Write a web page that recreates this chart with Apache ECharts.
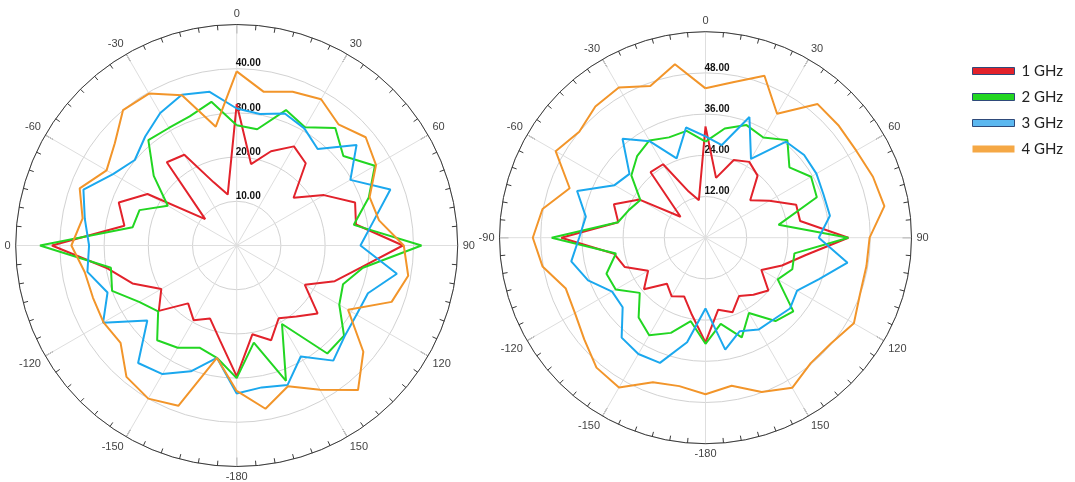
<!DOCTYPE html>
<html><head><meta charset="utf-8">
<script src="https://cdn.jsdelivr.net/npm/echarts@6/dist/echarts.min.js"></script>
<style>html,body{margin:0;padding:0;background:#fff}#c{width:1075px;height:482px}</style>
</head><body><div id="c"></div>
<script>
// Measurement angles (degrees, 0 at top, clockwise)
const ANGLES = [0,10,20,30,40,50,60,70,80,90,100,110,120,130,140,150,160,170,180,
  -170,-160,-150,-140,-130,-120,-110,-100,-90,-80,-70,-60,-50,-40,-30,-20,-10];
const SERIES_NAMES = ['1 GHz','2 GHz','3 GHz','4 GHz'];

// Left polar plot
const LEFT_1GHZ = [32,18.7,22.7,25.9,24.3,16.8,22.8,28.5,27.4,37.6,28.6,23.6,17.8,23.9,21,19,22.8,20.4,29.6,
  21.8,17.6,19.5,17.1,23,19.7,25.1,29.7,41.8,25.8,28.4,23.3,9.3,24.6,23.7,15.2,11.7];
const LEFT_2GHZ = [27.2,26.7,32.6,30.9,34.7,31.5,36.1,31.8,26.9,41.8,29.0,25.6,26.8,31.7,31.9,20.5,32.6,22.3,30.0,
  25.8,24.6,26.7,28.0,23.2,25.5,30.0,28.9,44.5,23.9,23.4,18.0,24.5,31.1,30.7,31.1,33.0];
const LEFT_3GHZ = [31.0,30.2,31.8,30.6,28.5,35.4,29.7,37.0,31.4,28.0,36.8,31.6,31.3,31.9,34.0,29.0,33.6,32.6,33.5,
  25.8,30.3,33.6,34.7,26.4,34.9,31.1,34.3,33.4,34.9,36.9,32.3,30.1,32.2,34.6,36.3,35.3];
const LEFT_4GHZ = [39.4,35.3,37.0,38.2,35.8,38.1,36.4,32.0,32.7,37.8,39.4,37.3,29.1,37.4,42.7,37.7,33.9,37.5,32.9,
  25.8,38.6,40.0,38.8,34.3,34.8,34.6,34.9,37.4,35.4,37.8,34.0,36.0,40.0,39.7,36.2,27.3];

// Right polar plot
const RIGHT_1GHZ = [32.4,17.7,24.1,25.5,23.6,17.0,21.5,28.1,28.0,41.6,29.5,23.7,18.8,23.9,21.7,19.6,23.1,21.3,30.5,
  22.8,18.2,19.7,17.5,23.4,19.3,25.0,27.0,42.0,25.8,28.4,22.2,9.5,24.9,24.7,14.3,11.1];
const RIGHT_2GHZ = [28.0,32.3,34.9,33.7,37.1,31.9,35.5,34.5,21.6,41.6,26.3,26.9,24.3,33.4,31.7,25.3,30.9,25.5,30.9,
  24.7,29.5,32.8,30.3,25.0,30.2,30.7,26.5,44.8,25.9,23.7,21.9,28.2,31.0,32.7,31.1,31.6];
const RIGHT_3GHZ = [29.5,27.4,37.4,26.5,36.5,37.5,37.3,36.6,36.8,33.0,42.0,35.2,30.8,32.1,31.0,30.9,29.0,33.1,20.6,
  30.9,38.8,39.1,38.0,31.5,31.4,36.4,39.7,36.8,35.4,39.8,30.6,28.9,37.6,32.4,24.6,32.6];
const RIGHT_4GHZ = [43.5,46.0,50.2,41.7,50.8,50.7,50.7,51.9,52.9,47.8,47.6,47.9,49.9,47.8,47.7,50.5,47.8,43.8,45.6,
  43.9,44.8,50.4,49.4,46.1,43.9,43.3,48.2,50.3,48.2,42.1,50.4,48.0,49.9,50.5,47.0,51.3];

const COLORS = ['#e2222b','#22d622','#1ba8ee','#f2952a'];
const LEGEND_COLORS = ['#e2222b','#22d622','#5cb8f0','#f5a845'];

function toPairs(vals) {
  const pts = vals.map((v, i) => [v, (ANGLES[i] + 360) % 360]);
  pts.push(pts[0]);
  return pts;
}
function angleFmt(hideNeg90) {
  return function (v) {
    const a = v >= 180 ? v - 360 : v;
    if (v === 360) return '';
    if (hideNeg90 && a === -90) return '0';
    return String(a);
  };
}
function angleAxis(idx, hideNeg90) {
  return {
    polarIndex: idx, type: 'value', min: 0, max: 360, interval: 30,
    startAngle: 90, clockwise: true,
    axisLine: { show: true, lineStyle: { color: '#3a3a3a', width: 1 } },
    axisTick: { show: true, inside: true, length: 9, lineStyle: { color: '#3a3a3a', width: 1 } },
    minorTick: { show: true, splitNumber: 6, length: 5, lineStyle: { color: '#3a3a3a', width: 1 } },
    axisLabel: { show: true, margin: 5, color: '#444', fontSize: 11, fontFamily: 'Liberation Sans, Arial', formatter: angleFmt(hideNeg90) },
    splitLine: { show: true, lineStyle: { color: '#dedede', width: 1 } }
  };
}
function radiusAxis(idx, max, interval) {
  return {
    polarIndex: idx, type: 'value', min: 0, max: max, interval: interval,
    axisLine: { show: false }, axisTick: { show: false },
    axisLabel: {
      show: true, inside: true, margin: 1, align: 'left', verticalAlign: 'bottom',
      color: '#111', fontSize: 10, fontWeight: 'bold', fontFamily: 'Liberation Sans, Arial',
      formatter: v => (v === 0 || v === max) ? '' : v.toFixed(2)
    },
    splitLine: { show: true, lineStyle: { color: '#d2d2d2', width: 1 } }
  };
}

const leftSets = [LEFT_1GHZ, LEFT_2GHZ, LEFT_3GHZ, LEFT_4GHZ];
const rightSets = [RIGHT_1GHZ, RIGHT_2GHZ, RIGHT_3GHZ, RIGHT_4GHZ];
const series = [];
[leftSets, rightSets].forEach((sets, p) => {
  sets.forEach((vals, i) => {
    series.push({
      name: SERIES_NAMES[i], type: 'line', coordinateSystem: 'polar', polarIndex: p,
      data: toPairs(vals), showSymbol: false, symbol: 'none', animation: false,
      lineStyle: { color: COLORS[i], width: 2 }, itemStyle: { color: COLORS[i] }, z: 3 + i
    });
  });
});

const chart = echarts.init(document.getElementById('c'), null, { renderer: 'canvas' });
chart.setOption({
  animation: false,
  backgroundColor: '#fff',
  polar: [
    { center: [236.7, 245.5], radius: 221 },
    { center: [705.5, 237.7], radius: 206 }
  ],
  angleAxis: [angleAxis(0, true), angleAxis(1, false)],
  radiusAxis: [radiusAxis(0, 50, 10), radiusAxis(1, 60, 12)],
  legend: {
    orient: 'vertical', left: 967, top: 58, itemWidth: 42, itemHeight: 7, itemGap: 10,
    icon: 'rect',
    textStyle: { fontSize: 15, fontFamily: 'Lato, Open Sans, sans-serif', color: '#222', lineHeight: 16, padding: [0, 0, 0, 2] },
    data: SERIES_NAMES.map((n, i) => ({
      name: n,
      itemStyle: { color: LEGEND_COLORS[i], borderColor: i < 3 ? '#2f4a7a' : LEGEND_COLORS[i], borderWidth: i < 3 ? 1 : 0 }
    }))
  },
  series: series
});
</script></body></html>
